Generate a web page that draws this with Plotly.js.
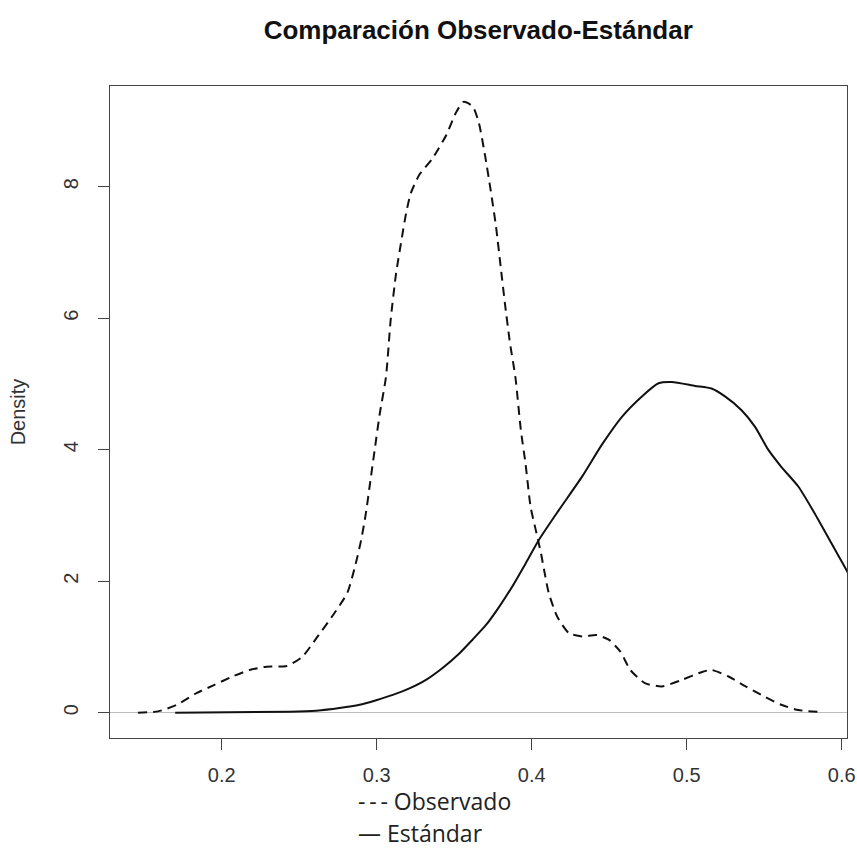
<!DOCTYPE html>
<html>
<head>
<meta charset="utf-8">
<script src="https://cdn.plot.ly/plotly-3.0.1.min.js"></script>
<style>html,body{margin:0;padding:0;background:#fff;}#chart{width:857px;height:850px;}</style>
</head>
<body>
<div id="chart"></div>
<script>
// Observado (dashed density)
const obsX = [0.146,0.159,0.171,0.184,0.195,0.207,0.218,0.229,0.242,0.252,0.261,0.272,0.281,0.286,0.290,0.293,0.296,0.299,0.302,0.306,0.309,0.3125,0.316,0.319,0.322,0.3275,0.336,0.345,0.351,0.356,0.362,0.366,0.370,0.3735,0.377,0.380,0.383,0.386,0.3895,0.393,0.396,0.3993,0.4026,0.406,0.408,0.411,0.4165,0.424,0.4325,0.442,0.4497,0.4572,0.4636,0.473,0.484,0.497,0.510,0.516,0.527,0.538,0.5505,0.561,0.572,0.586];
const obsY = [0.0,0.02,0.12,0.30,0.42,0.55,0.65,0.70,0.71,0.85,1.13,1.49,1.82,2.22,2.63,3.03,3.54,4.05,4.55,5.11,5.97,6.68,7.19,7.60,7.90,8.18,8.43,8.79,9.12,9.29,9.22,8.96,8.46,7.95,7.39,6.78,6.17,5.62,5.10,4.30,3.79,3.13,2.78,2.42,2.17,1.82,1.46,1.21,1.16,1.18,1.11,0.93,0.65,0.45,0.40,0.50,0.62,0.65,0.55,0.40,0.24,0.12,0.04,0.01];
// Estándar (solid density)
const stdX = [0.170,0.244,0.261,0.276,0.289,0.2997,0.3104,0.3211,0.3318,0.3425,0.3533,0.3618,0.3704,0.379,0.3875,0.3961,0.4047,0.4175,0.4325,0.4454,0.4582,0.4711,0.4818,0.4904,0.5054,0.516,0.5247,0.5354,0.544,0.5526,0.561,0.572,0.5826,0.5933,0.6019,0.608];
const stdY = [0,0.015,0.03,0.07,0.12,0.19,0.27,0.37,0.50,0.68,0.90,1.11,1.33,1.61,1.92,2.27,2.63,3.08,3.59,4.08,4.50,4.81,5.01,5.03,4.97,4.93,4.81,4.60,4.35,4.00,3.74,3.44,3.03,2.58,2.22,1.95];
// Tick labels
const xTicks = [0.2,0.3,0.4,0.5,0.6];
const yTicks = [0,2,4,6,8];
const legendLabels = ["-\u2009-\u2009- Observado", "— Estándar"];

const traces = [
  {x: obsX, y: obsY, type: 'scatter', mode: 'lines', name: 'Observado',
   line: {color: '#111', width: 2, dash: '9px,6px', shape: 'spline', smoothing: 0.6}},
  {x: stdX, y: stdY, type: 'scatter', mode: 'lines', name: 'Estándar',
   line: {color: '#111', width: 2, shape: 'spline', smoothing: 0.6}}
];

const tickFont = {family: 'Liberation Sans, Arial, sans-serif', size: 20, color: '#333'};

const layout = {
  width: 857, height: 850,
  margin: {l: 110, r: 10, t: 86, b: 112},
  paper_bgcolor: '#fff', plot_bgcolor: '#fff',
  showlegend: false,
  title: {text: 'Comparación Observado-Estándar', x: 0.558, xanchor: 'center', y: 0.965, yanchor: 'middle',
          font: {family: 'Liberation Sans, Arial, sans-serif', size: 26, color: '#111', weight: 'bold'}},
  xaxis: {range: [0.12794, 0.60342], tickvals: xTicks, ticktext: xTicks.map(String),
          showgrid: false, zeroline: false, showline: true, mirror: true, linecolor: '#444', linewidth: 1,
          ticks: 'outside', ticklen: 11, tickcolor: '#444', tickfont: tickFont, ticklabelstandoff: 8},
  yaxis: {range: [-0.385, 9.531], tickvals: yTicks, ticktext: yTicks.map(String), tickangle: -90,
          showgrid: false, zeroline: true, zerolinecolor: '#bdbdbd', zerolinewidth: 1,
          showline: true, mirror: true, linecolor: '#444', linewidth: 1,
          ticks: 'outside', ticklen: 11, tickcolor: '#444', tickfont: tickFont, ticklabelstandoff: 12,
          title: {text: 'Density', font: {family: 'Liberation Sans, Arial, sans-serif', size: 20, color: '#333'}, standoff: 29}},
  annotations: [
    {text: legendLabels[0], xref: 'paper', yref: 'paper', x: 0.334, y: -0.097, xanchor: 'left', yanchor: 'middle',
     showarrow: false, font: {family: 'Open Sans, Noto Sans, sans-serif', size: 23, color: '#222'}},
    {text: legendLabels[1], xref: 'paper', yref: 'paper', x: 0.334, y: -0.146, xanchor: 'left', yanchor: 'middle',
     showarrow: false, font: {family: 'Open Sans, Noto Sans, sans-serif', size: 23, color: '#222'}}
  ]
};

Plotly.newPlot('chart', traces, layout, {staticPlot: true, displayModeBar: false});
</script>
</body>
</html>
